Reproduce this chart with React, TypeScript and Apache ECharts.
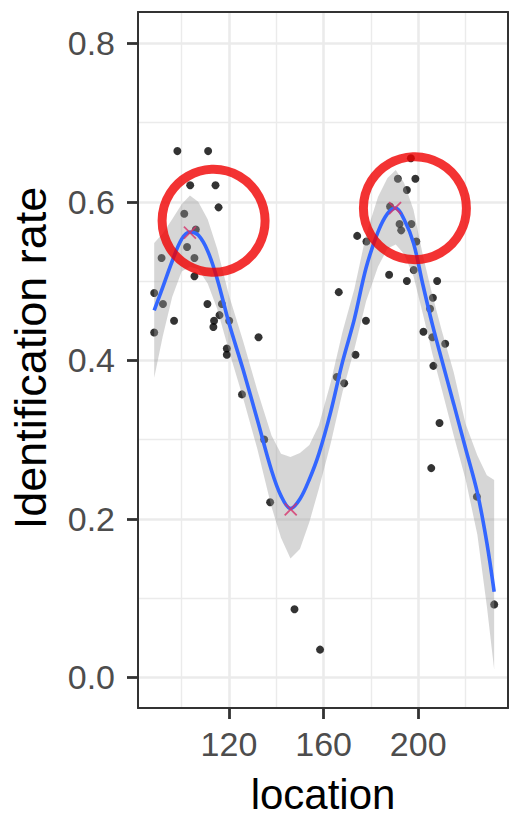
import React, { useEffect, useRef } from "react";
import * as echarts from "echarts";

// Observed points
const locations = [
  98.2, 111.2, 103.6, 114.3, 115.6, 101.1, 106.0, 102.3, 91.5, 105.4,
  105.4, 88.4, 92.1, 110.9, 117.0, 96.8, 113.7, 113.4, 116.0, 120.1,
  88.4, 132.5, 119.1, 119.1, 125.5, 134.9, 137.4, 147.7, 158.5, 173.5,
  165.6, 168.7, 166.4, 174.2, 178.1, 177.9, 187.7, 188.1, 191.4, 198.8,
  195.2, 196.9, 192.1, 197.1, 192.8, 199.2, 198.1, 195.2, 208.0, 206.2,
  205.0, 202.2, 206.0, 211.4, 206.4, 209.0, 205.5, 224.8, 232.1,
];
const rates = [
  0.664, 0.664, 0.621, 0.621, 0.593, 0.585, 0.565, 0.543, 0.529, 0.529,
  0.506, 0.485, 0.471, 0.471, 0.471, 0.45, 0.45, 0.442, 0.457, 0.45,
  0.435, 0.429, 0.415, 0.407, 0.357, 0.3, 0.221, 0.086, 0.035, 0.407,
  0.379, 0.371, 0.486, 0.557, 0.55, 0.45, 0.508, 0.594, 0.629, 0.629,
  0.615, 0.655, 0.572, 0.572, 0.564, 0.55, 0.514, 0.5, 0.5, 0.479,
  0.465, 0.436, 0.429, 0.421, 0.393, 0.321, 0.264, 0.228, 0.092,
];

// Smoothed fit and its confidence band
const smoothX = [
  88.4, 92, 96, 100, 103.5, 107, 111, 115, 120, 126, 132, 138, 142, 146, 150,
  154, 158, 163, 168, 173, 178, 183, 187, 190.5, 194, 198, 202, 206, 210, 215,
  220, 225, 229, 232.1,
];
const smoothY = [
  0.463, 0.492, 0.525, 0.553, 0.562, 0.558, 0.538, 0.503, 0.447, 0.388, 0.325,
  0.261, 0.229, 0.213, 0.225, 0.25, 0.282, 0.335, 0.398, 0.452, 0.517, 0.562,
  0.585, 0.592, 0.578, 0.548, 0.495, 0.445, 0.4, 0.345, 0.289, 0.233, 0.17, 0.108,
];
const bandLower = [
  0.378, 0.43, 0.48, 0.512, 0.518, 0.515, 0.497, 0.465, 0.412, 0.352, 0.288,
  0.215, 0.176, 0.15, 0.162, 0.196, 0.238, 0.295, 0.36, 0.414, 0.475, 0.518,
  0.541, 0.546, 0.534, 0.506, 0.458, 0.408, 0.363, 0.305, 0.25, 0.18, 0.09, 0.01,
];
const bandUpper = [
  0.548, 0.56, 0.578, 0.597, 0.608, 0.6, 0.578, 0.541, 0.482, 0.424, 0.362,
  0.305, 0.282, 0.278, 0.283, 0.293, 0.318, 0.372, 0.436, 0.49, 0.559, 0.606,
  0.63, 0.64, 0.624, 0.59, 0.532, 0.482, 0.437, 0.385, 0.32, 0.28, 0.255, 0.249,
];

// Extrema markers and highlighted regions
const extremaX = [103.5, 146.1, 190.2];
const extremaY = [0.561, 0.212, 0.592];
const highlightX = [113.5, 198.6];
const highlightY = [0.576, 0.592];

// Axes
const xMin = 81.55;
const xMax = 237.95;
const yMin = -0.0387;
const yMax = 0.8395;
const xTicks = [120, 160, 200];
const xMinor = [100, 140, 180, 220];
const yTicks = [0, 0.2, 0.4, 0.6, 0.8];
const yMinor = [0.1, 0.3, 0.5, 0.7];

const FONT = '"Liberation Sans", Arial, Helvetica, sans-serif';

export default function App() {
  const ref = useRef<HTMLDivElement>(null);

  useEffect(() => {
    if (!ref.current) return;
    const chart = echarts.init(ref.current, null, { renderer: "svg" });

    const gridLines = [
      ...xTicks.map((v) => ({ xAxis: v, lineStyle: { width: 2.6 } })),
      ...xMinor.map((v) => ({ xAxis: v, lineStyle: { width: 1.4 } })),
      ...yTicks.map((v) => ({ yAxis: v, lineStyle: { width: 2.6 } })),
      ...yMinor.map((v) => ({ yAxis: v, lineStyle: { width: 1.4 } })),
    ];

    const borderAxis = {
      axisLine: { show: true, onZero: false, lineStyle: { color: "#333333", width: 2 } },
      axisTick: { show: false },
      axisLabel: { show: false },
      splitLine: { show: false },
    };

    chart.setOption({
      animation: false,
      backgroundColor: "#ffffff",
      grid: { left: 138, top: 12, width: 370, height: 696, containLabel: false },
      xAxis: [
        {
          type: "value",
          min: xMin,
          max: xMax,
          position: "bottom",
          z: 10,
          axisLine: { show: true, onZero: false, lineStyle: { color: "#333333", width: 2 } },
          axisTick: {
            show: true,
            customValues: xTicks,
            length: 11,
            lineStyle: { color: "#333333", width: 2.8 },
          },
          axisLabel: {
            show: true,
            customValues: xTicks,
            margin: 19,
            fontSize: 34,
            fontFamily: FONT,
            color: "#4d4d4d",
            formatter: (v: number) => String(v),
          },
          splitLine: { show: false },
        },
        { type: "value", min: xMin, max: xMax, position: "top", z: 10, ...borderAxis },
      ],
      yAxis: [
        {
          type: "value",
          min: yMin,
          max: yMax,
          position: "left",
          z: 10,
          axisLine: { show: true, onZero: false, lineStyle: { color: "#333333", width: 2 } },
          axisTick: {
            show: true,
            customValues: yTicks,
            length: 11,
            lineStyle: { color: "#333333", width: 2.8 },
          },
          axisLabel: {
            show: true,
            customValues: yTicks,
            margin: 23,
            fontSize: 34,
            fontFamily: FONT,
            color: "#4d4d4d",
            formatter: (v: number) => v.toFixed(1),
          },
          splitLine: { show: false },
        },
        { type: "value", min: yMin, max: yMax, position: "right", z: 10, ...borderAxis },
      ],
      graphic: [
        {
          type: "text",
          x: 323,
          y: 794,
          style: {
            text: "location",
            fontSize: 42,
            lineHeight: 42,
            fontFamily: FONT,
            fill: "#000000",
            align: "center",
            verticalAlign: "middle",
            textAlign: "center",
            textVerticalAlign: "middle",
          },
        },
        {
          type: "text",
          x: 30,
          y: 358,
          rotation: Math.PI / 2,
          style: {
            text: "Identification rate",
            fontSize: 45,
            fontFamily: FONT,
            fill: "#000000",
            align: "center",
            verticalAlign: "middle",
            textAlign: "center",
            textVerticalAlign: "middle",
          },
        },
      ],
      series: [
        {
          name: "grid",
          type: "line",
          data: [],
          z: 1,
          silent: true,
          markLine: {
            z: 1,
            silent: true,
            symbol: ["none", "none"],
            label: { show: false },
            lineStyle: { color: "#ebebeb", type: "solid" },
            emphasis: { disabled: true },
            data: gridLines,
          },
        },
        {
          name: "points",
          type: "scatter",
          z: 2,
          symbol: "circle",
          symbolSize: 8,
          itemStyle: { color: "#000000" },
          data: locations.map((x, i) => [x, rates[i]]),
        },
        {
          name: "band",
          type: "custom",
          z: 3,
          silent: true,
          clip: true,
          data: smoothX.map((x, i) => [x, bandLower[i], bandUpper[i]]),
          encode: { x: 0, y: [1, 2] },
          renderItem: (params: any, api: any) => {
            if (params.dataIndex !== 0) return null;
            const pts: number[][] = [];
            for (let i = 0; i < smoothX.length; i++) pts.push(api.coord([smoothX[i], bandUpper[i]]));
            for (let i = smoothX.length - 1; i >= 0; i--) pts.push(api.coord([smoothX[i], bandLower[i]]));
            return {
              type: "polygon",
              shape: { points: pts },
              style: { fill: "rgba(153,153,153,0.4)", stroke: "none" },
            };
          },
        },
        {
          name: "fit",
          type: "line",
          z: 4,
          smooth: 0.35,
          showSymbol: false,
          symbol: "none",
          lineStyle: { color: "#3366FF", width: 3.6 },
          data: smoothX.map((x, i) => [x, smoothY[i]]),
        },
        {
          name: "extrema",
          type: "scatter",
          z: 5,
          symbol: "path://M0,0L10,10M10,0L0,10",
          symbolSize: 12,
          itemStyle: { color: "rgba(0,0,0,0)", borderColor: "#d6336c", borderWidth: 1.8 },
          data: extremaX.map((x, i) => [x, extremaY[i]]),
        },
        {
          name: "highlight",
          type: "scatter",
          z: 6,
          symbol: "circle",
          symbolSize: 103,
          itemStyle: { color: "rgba(0,0,0,0)", borderColor: "#f00000", borderWidth: 9 },
          data: highlightX.map((x, i) => [x, highlightY[i]]),
        },
      ],
    });

    return () => chart.dispose();
  }, []);

  return (
    <div
      ref={ref}
      style={{ position: "fixed", left: 0, top: 0, width: 510, height: 816, background: "#fff" }}
    />
  );
}
